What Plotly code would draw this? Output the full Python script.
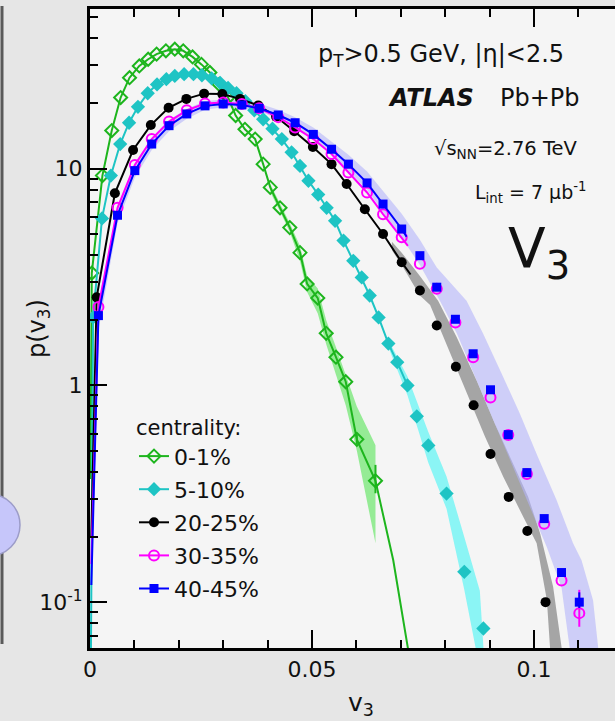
import plotly.graph_objects as go

# ---------------- data ----------------
labels = ["0-1%", "5-10%", "20-25%", "30-35%", "40-45%"]

g_x = [0.0004, 0.0028, 0.0049, 0.0069, 0.0089, 0.0111, 0.0131, 0.0150, 0.0171, 0.0191,
       0.0210, 0.0231, 0.0251, 0.0270, 0.0291, 0.0311, 0.0328, 0.0349, 0.0372, 0.0390,
       0.0406, 0.0428, 0.0450, 0.0473, 0.0489, 0.0513, 0.0532, 0.0554, 0.0576, 0.0601, 0.0643]
g_y = [3.3, 9.3, 15.0, 21.3, 26.3, 29.8, 32.0, 33.8, 35.0, 35.6,
       35.0, 32.8, 30.3, 27.8, 24.5, 21.3, 17.6, 15.2, 13.7, 10.5,
       8.2, 6.6, 5.35, 4.1, 2.94, 2.53, 1.74, 1.35, 1.04, 0.564, 0.363]
g_err_hi = [0]*29 + [0.03, 0.067]
g_err_lo = [0]*29 + [0.03, 0.045]
g_head_x, g_head_y = [0.0001], [0.37]
g_tail_x, g_tail_y = [0.0683, 0.0718], [0.156, 0.058]
g_band_hi_x = [0.0406, 0.0428, 0.0450, 0.0473, 0.0489, 0.0513, 0.0532, 0.0554, 0.0576, 0.0601, 0.0643]
g_band_hi_y = [8.5, 6.9, 5.6, 4.4, 3.2, 2.8, 2.0, 1.5, 1.12, 0.80, 0.53]
g_band_lo_x = [0.0406, 0.0428, 0.0450, 0.0473, 0.0489, 0.0513, 0.0532, 0.0554, 0.0576, 0.0601, 0.0643]
g_band_lo_y = [7.8, 6.35, 5.1, 3.75, 2.7, 2.15, 1.55, 1.12, 0.81, 0.50, 0.187]

c_x = [0.0007, 0.0027, 0.0047, 0.0068, 0.0088, 0.0108, 0.0130, 0.0151, 0.0172, 0.0191,
       0.0212, 0.0233, 0.0252, 0.0274, 0.0293, 0.0311, 0.0330, 0.0350, 0.0370, 0.0390,
       0.0411, 0.0432, 0.0454, 0.0473, 0.0492, 0.0514, 0.0533, 0.0552, 0.0571, 0.0593,
       0.0612, 0.0630, 0.0650, 0.0672, 0.0692, 0.0715, 0.0736, 0.0762, 0.0803, 0.0843, 0.0886]
c_y = [2.06, 5.9, 9.3, 13.0, 16.3, 19.3, 22.3, 24.5, 25.9, 26.8,
       27.3, 27.3, 27.0, 26.1, 24.9, 23.6, 22.3, 20.5, 18.6, 16.9,
       15.3, 13.7, 11.9, 10.3, 8.8, 7.6, 6.6, 5.75, 4.66, 3.76,
       3.15, 2.6, 2.06, 1.56, 1.28, 1.0, 0.72, 0.529, 0.317, 0.138, 0.0756]
c_head_x, c_head_y = [0.0002], [0.055]
c_tail_x, c_tail_y = [], []
c_band_hi_x = [0.0672, 0.0715, 0.0762, 0.0803, 0.0843, 0.0878, 0.0887]
c_band_hi_y = [1.62, 1.10, 0.61, 0.38, 0.20, 0.113, 0.058]
c_band_lo_x = [0.0672, 0.0715, 0.0762, 0.0803, 0.0843, 0.0871]
c_band_lo_y = [1.50, 0.90, 0.44, 0.27, 0.114, 0.058]

k_x = [0.0015, 0.0056, 0.0097, 0.0137, 0.0177, 0.0217, 0.0257, 0.0298, 0.0338, 0.0379,
       0.0419, 0.0460, 0.0502, 0.0544, 0.0578, 0.0619, 0.0660, 0.0702, 0.0743, 0.0781,
       0.0824, 0.0864, 0.0902, 0.0943, 0.0985, 0.1026]
k_y = [2.55, 7.7, 12.2, 15.9, 19.1, 21.0, 22.2, 22.1, 21.0, 19.6,
       17.4, 14.9, 12.6, 10.5, 8.5, 6.5, 5.0, 3.7, 2.74, 1.89,
       1.22, 0.81, 0.483, 0.306, 0.213, 0.100]
k_head_x, k_head_y = [0.0003], [0.2]
k_tail_x, k_tail_y = [0.0722], [3.25]
k_band_hi_x = [0.0680, 0.0702, 0.0743, 0.0784, 0.0826, 0.0871, 0.0912, 0.0953, 0.0987, 0.1014, 0.1043, 0.1064]
k_band_hi_y = [4.6, 4.1, 3.2, 2.46, 1.67, 1.05, 0.666, 0.436, 0.306, 0.207, 0.118, 0.058]
k_band_lo_x = [0.0680, 0.0702, 0.0743, 0.0766, 0.0811, 0.0852, 0.0890, 0.0931, 0.0976, 0.1006, 0.1029, 0.1037]
k_band_lo_y = [4.2, 3.6, 2.6, 2.35, 1.40, 0.883, 0.578, 0.378, 0.247, 0.187, 0.102, 0.058]

bm_x = [0.0019, 0.0062, 0.0101, 0.0139, 0.0178, 0.0218, 0.0259, 0.0300, 0.0342, 0.0381,
        0.0424, 0.0462, 0.0503, 0.0544, 0.0582, 0.0624, 0.0660, 0.0702, 0.0743, 0.0781,
        0.0823, 0.0863, 0.0902, 0.0942, 0.0984, 0.1023, 0.1062, 0.1102]
m_y = [2.3, 6.6, 10.4, 13.7, 16.5, 18.6, 20.0, 20.2, 19.9, 19.0,
       17.3, 15.5, 13.7, 11.7, 9.6, 7.77, 6.17, 4.83, 3.64, 2.79,
       1.95, 1.35, 0.88, 0.59, 0.39, 0.23, 0.126, 0.089]
m_err_hi = [0]*27 + [0.025]
m_err_lo = [0]*27 + [0.012]
m_head_x, m_head_y = [0.0003], [0.15]
m_tail_x, m_tail_y = [0.0716], [4.4]

b_y = [2.1, 6.1, 9.8, 13.0, 15.8, 17.9, 19.5, 19.9, 19.7, 19.0,
       17.7, 16.3, 14.4, 12.3, 10.5, 8.6, 6.87, 5.27, 3.97, 2.84,
       2.02, 1.40, 0.955, 0.593, 0.396, 0.243, 0.137, 0.100]
b_err_hi = [0]*27 + [0.011]
b_err_lo = [0]*27 + [0.006]
b_head_x, b_head_y = [0.0003], [0.12]
b_tail_x, b_tail_y = [0.0713], [4.85]
b_band_hi_x = [0.0019, 0.0062, 0.0101, 0.0139, 0.0178, 0.0218, 0.0259, 0.0300, 0.0342, 0.0381,
               0.0424, 0.0462, 0.0503, 0.0544, 0.0582, 0.0624, 0.0660, 0.0702, 0.0743, 0.0781,
               0.0848, 0.0885, 0.0927, 0.0968, 0.1009, 0.1051, 0.1088, 0.1107, 0.1133, 0.1146]
b_band_hi_y = [2.4, 6.7, 10.6, 13.9, 16.8, 18.9, 20.5, 20.9, 20.7, 20.0,
               18.7, 17.3, 15.5, 13.4, 11.6, 9.7, 7.9, 6.2, 4.7, 3.5,
               2.46, 1.74, 1.136, 0.743, 0.466, 0.295, 0.187, 0.156, 0.102, 0.058]
b_band_lo_x = [0.0019, 0.0062, 0.0101, 0.0139, 0.0178, 0.0218, 0.0259, 0.0300, 0.0342, 0.0381,
               0.0424, 0.0462, 0.0503, 0.0544, 0.0582, 0.0624, 0.0660, 0.0702, 0.0743, 0.0788,
               0.0826, 0.0867, 0.0908, 0.0953, 0.0991, 0.1029, 0.1062, 0.1082]
b_band_lo_y = [1.8, 5.6, 9.1, 12.2, 14.9, 17.0, 18.7, 19.2, 19.0, 18.4,
               17.0, 15.6, 13.7, 11.6, 9.8, 8.0, 6.3, 4.8, 3.6, 2.46,
               1.74, 1.11, 0.69, 0.419, 0.274, 0.179, 0.117, 0.058]

x_major = [0, 0.05, 0.1]
x_minor = [0.01, 0.02, 0.03, 0.04, 0.06, 0.07, 0.08, 0.09, 0.11]
y_major = [0.1, 1, 10]
y_major_text = ["10<sup>-1</sup>", "1", "10"]
y_minor = [0.07, 0.08, 0.09, 0.2, 0.3, 0.4, 0.5, 0.6, 0.7, 0.8, 0.9,
           2, 3, 4, 5, 6, 7, 8, 9, 20, 30, 40, 50]

LINE_END = 0.0722  # lines stop at v3 ~ 0.072 in the original

# ---------------- styles ----------------
FONT = "DejaVu Sans, Liberation Sans, Arial"
GREEN, CYAN, BLACK, MAGENTA, BLUE = "#1db51d", "#1ec4c4", "#000000", "#ff00ff", "#0000ff"

fig = go.Figure()


def band(hx, hy, lx, ly, color):
    fig.add_trace(go.Scatter(x=hx + lx[::-1], y=hy + ly[::-1], fill="toself",
                             fillcolor=color, line=dict(width=0), mode="lines",
                             hoverinfo="skip", showlegend=False))


band(k_band_hi_x, k_band_hi_y, k_band_lo_x, k_band_lo_y, "rgba(150,150,150,0.85)")
band(b_band_hi_x, b_band_hi_y, b_band_lo_x, b_band_lo_y, "rgba(180,180,250,0.6)")
band(c_band_hi_x, c_band_hi_y, c_band_lo_x, c_band_lo_y, "rgba(120,244,244,0.85)")
band(g_band_hi_x, g_band_hi_y, g_band_lo_x, g_band_lo_y, "rgba(125,232,125,0.8)")

series = [
    (labels[0], g_x, g_y, g_head_x, g_head_y, g_tail_x, g_tail_y, GREEN,
     dict(symbol="diamond-open", size=10, color=GREEN, line=dict(width=2, color=GREEN)),
     (g_err_hi, g_err_lo)),
    (labels[1], c_x, c_y, c_head_x, c_head_y, c_tail_x, c_tail_y, CYAN,
     dict(symbol="diamond", size=11, color=CYAN, line=dict(width=0)), None),
    (labels[2], k_x, k_y, k_head_x, k_head_y, k_tail_x, k_tail_y, BLACK,
     dict(symbol="circle", size=10, color=BLACK, line=dict(width=0)), None),
    (labels[3], bm_x, m_y, m_head_x, m_head_y, m_tail_x, m_tail_y, MAGENTA,
     dict(symbol="circle-open", size=10, color=MAGENTA, line=dict(width=2, color=MAGENTA)),
     (m_err_hi, m_err_lo)),
    (labels[4], bm_x, b_y, b_head_x, b_head_y, b_tail_x, b_tail_y, BLUE,
     dict(symbol="square", size=9, color=BLUE, line=dict(width=0)), (b_err_hi, b_err_lo)),
]

for name, xs, ys, hx, hy, tx, ty, col, mk, err in series:
    lx = hx + [x for x in xs if x <= LINE_END] + tx
    ly = hy + [y for x, y in zip(xs, ys) if x <= LINE_END] + ty
    fig.add_trace(go.Scatter(x=lx, y=ly, mode="lines", line=dict(color=col, width=2),
                             showlegend=False, hoverinfo="skip"))
    kw = {}
    if err is not None:
        kw["error_y"] = dict(type="data", symmetric=False, array=err[0], arrayminus=err[1],
                             color=col, thickness=2, width=0)
    fig.add_trace(go.Scatter(x=xs, y=ys, mode="markers", marker=mk, showlegend=False, **kw))

# legend-only entries
for i, (name, xs, ys, hx, hy, tx, ty, col, mk, err) in enumerate(series):
    fig.add_trace(go.Scatter(x=[None], y=[None], mode="lines+markers", name=name,
                             line=dict(color=col, width=2), marker=mk,
                             legendgroup="g%d" % i))

W, H = 615, 721
L, R, T, B = 90, 0, 9, 73
PW, PH = W - L - R, H - T - B


def px(xp):
    return (xp - L) / PW


def py(yp):
    return (H - B - yp) / PH


ann = [
    dict(text="p<sub>T</sub>>0.5 GeV, |η|<2.5", x=px(316), y=py(55), size=24, xa="left"),
    dict(text="<b><i>ATLAS</i></b>", x=px(386), y=py(98), size=24, xa="left"),
    dict(text="Pb+Pb", x=px(498), y=py(98), size=24, xa="left"),
    dict(text="√s<sub>NN</sub>=2.76 TeV", x=px(432), y=py(149), size=19.5, xa="left"),
    dict(text="L<sub>int</sub> = 7 μb<sup>-1</sup>", x=px(473), y=py(192), size=19, xa="left"),
    dict(text="V<sub>3</sub>", x=px(506), y=py(252), size=55, xa="left"),
    dict(text="v<sub>3</sub>", x=px(346), y=py(704), size=25, xa="left"),
]
annotations = [dict(text=a["text"], x=a["x"], y=a["y"], xref="paper", yref="paper",
                    xanchor=a["xa"], yanchor="middle", showarrow=False,
                    font=dict(family=FONT, size=a["size"], color="#111"))
               for a in ann]
annotations.append(dict(text="p(v<sub>3</sub>)", x=px(38), y=py(329), xref="paper", yref="paper",
                        xanchor="center", yanchor="middle", showarrow=False, textangle=-90,
                        font=dict(family=FONT, size=24, color="#111")))

shapes = [
    dict(type="line", xref="paper", yref="paper", x0=px(2), x1=px(2), y0=py(644), y1=py(6),
         line=dict(color="#5a5a5a", width=3)),
    dict(type="circle", xref="paper", yref="paper", x0=px(-42), x1=px(20), y0=py(556), y1=py(494),
         fillcolor="#c6c6fa", line=dict(color="#9c9cc8", width=1.5)),
]

axis_common = dict(showline=True, linecolor="black", linewidth=3, ticks="inside",
                   tickcolor="black", tickwidth=2, showgrid=False, zeroline=False,
                   tickfont=dict(family=FONT, size=22, color="#111"))

fig.update_layout(
    width=W, height=H, margin=dict(l=L, r=R, t=T, b=B, pad=0),
    paper_bgcolor="#e6e6e6", plot_bgcolor="#f5f5f5",
    xaxis=dict(range=[0, PW / 4440.0], tickmode="array", tickvals=x_major,
               ticktext=["0", "0.05", "0.1"], ticklen=18, mirror="ticks",
               minor=dict(tickmode="array", tickvals=x_minor, ticks="inside", ticklen=8,
                          tickwidth=2, tickcolor="black"),
               **axis_common),
    yaxis=dict(type="log", range=[-1.2115, 1.737], tickmode="array", tickvals=y_major,
               ticktext=y_major_text, ticklen=17, mirror=False,
               minor=dict(tickmode="array", tickvals=y_minor, ticks="inside", ticklen=8,
                          tickwidth=2, tickcolor="black"),
               **axis_common),
    showlegend=True,
    legend=dict(x=px(134), y=py(408), xanchor="left", yanchor="top",
                bgcolor="rgba(0,0,0,0)", borderwidth=0, itemwidth=30,
                tracegroupgap=1.5, traceorder="grouped",
                title=dict(text="centrality:", font=dict(family=FONT, size=21, color="#111")),
                font=dict(family=FONT, size=22, color="#111")),
    annotations=annotations, shapes=shapes,
)

fig.write_html("out.html")
